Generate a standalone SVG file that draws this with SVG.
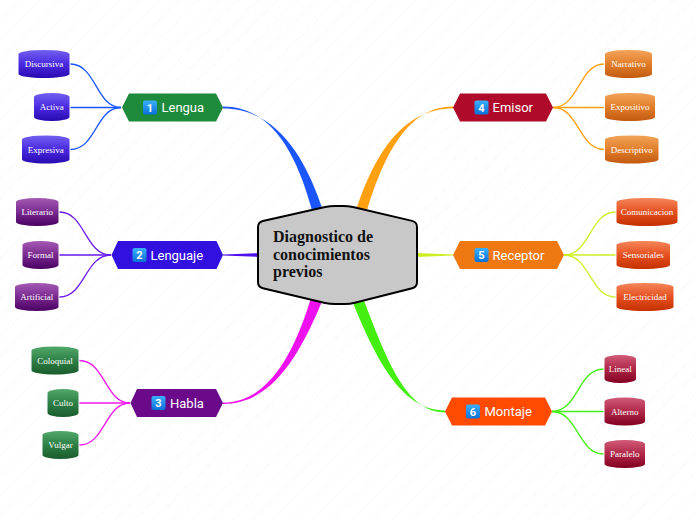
<svg xmlns="http://www.w3.org/2000/svg" width="696" height="520" viewBox="0 0 696 520">
<defs>
<pattern id="bg" width="14" height="14" patternUnits="userSpaceOnUse" patternTransform="rotate(45)">
<line x1="0" y1="0" x2="0" y2="14" stroke="#e6e6e6" stroke-width="0.8" stroke-dasharray="1.5 1.5"/>
</pattern>
<linearGradient id="gBlue" x1="0" y1="0" x2="0" y2="1"><stop offset="0" stop-color="#7260f0"/><stop offset="0.5" stop-color="#4a2ae0"/><stop offset="1" stop-color="#2a0ab0"/></linearGradient>
<linearGradient id="gPurple" x1="0" y1="0" x2="0" y2="1"><stop offset="0" stop-color="#a45ab4"/><stop offset="0.5" stop-color="#7a2a90"/><stop offset="1" stop-color="#4a0062"/></linearGradient>
<linearGradient id="gGreen" x1="0" y1="0" x2="0" y2="1"><stop offset="0" stop-color="#52a86a"/><stop offset="0.5" stop-color="#2e8046"/><stop offset="1" stop-color="#1a5c2c"/></linearGradient>
<linearGradient id="gOrange" x1="0" y1="0" x2="0" y2="1"><stop offset="0" stop-color="#f2a45a"/><stop offset="0.5" stop-color="#e27e2a"/><stop offset="1" stop-color="#c25a10"/></linearGradient>
<linearGradient id="gRed" x1="0" y1="0" x2="0" y2="1"><stop offset="0" stop-color="#f4865a"/><stop offset="0.5" stop-color="#e65020"/><stop offset="1" stop-color="#c43000"/></linearGradient>
<linearGradient id="gCrimson" x1="0" y1="0" x2="0" y2="1"><stop offset="0" stop-color="#d05a78"/><stop offset="0.5" stop-color="#b02848"/><stop offset="1" stop-color="#820020"/></linearGradient>
<linearGradient id="gBadge" x1="0" y1="0" x2="0" y2="1"><stop offset="0" stop-color="#3ab0ff"/><stop offset="1" stop-color="#0a70d8"/></linearGradient>
</defs>
<style>
.leaf text{font-family:"Liberation Serif",serif;font-size:9px;fill:#fff;text-anchor:middle}
.br text{font-family:Roboto,"Liberation Sans",sans-serif;font-size:13px;fill:#fff}
.br text.num{font-size:11px;font-weight:bold;text-anchor:middle}
.badge{fill:url(#gBadge)}
.lc{fill:none;stroke-width:1.3}
</style>
<rect width="696" height="520" fill="#fff"/>
<rect width="696" height="520" fill="url(#bg)"/>

<g id="connectors">
<path d="M223,106.5 C270,106.5 296,150 313,214 L324,214 C304,150 272,108.5 223,108.5 Z" fill="#1a55ff"/>
<path d="M453,106.5 C410,106.5 385,150 366,214 L355,214 C375,150 405,108.5 453,108.5 Z" fill="#ffa010"/>
<path d="M223,254.5 L262,253 L262,257 L223,255.5 Z" fill="#5010ee"/>
<path d="M416,253 L453,254.5 L453,255.5 L416,257 Z" fill="#ccee22"/>
<path d="M223,402.5 C270,402.5 295,350 311,298 L323,299 C300,355 272,404 223,404 Z" fill="#ee10ee"/>
<path d="M445,410.5 C400,410.5 374,355 351,298 L363,298 C385,355 405,412.5 445,412.5 Z" fill="#44ee10"/>

<g class="lc" stroke="#1a55ff">
<path d="M70.5,64 C96,64 96,107.5 121,107.5"/>
<path d="M70.5,107.5 L121,107.5"/>
<path d="M70.5,149.5 C96,149.5 96,107.5 121,107.5"/>
</g>
<g class="lc" stroke="#6a18ee">
<path d="M59.5,212 C85,212 85,255 111,255"/>
<path d="M59.5,255 L111,255"/>
<path d="M59.5,297 C85,297 85,255 111,255"/>
</g>
<g class="lc" stroke="#ee18ee">
<path d="M79.5,360.5 C105,360.5 105,403 130,403"/>
<path d="M79.5,403 L130,403"/>
<path d="M79.5,445 C105,445 105,403 130,403"/>
</g>
<g class="lc" stroke="#ffa010">
<path d="M553,107.5 C579,107.5 579,64 604,64"/>
<path d="M553,107.5 L604,107.5"/>
<path d="M553,107.5 C579,107.5 579,149.5 604,149.5"/>
</g>
<g class="lc" stroke="#ccee22">
<path d="M564,255 C590,255 590,212 615.5,212"/>
<path d="M564,255 L615.5,255"/>
<path d="M564,255 C590,255 590,297 615.5,297"/>
</g>
<g class="lc" stroke="#44ee10">
<path d="M552,411.5 C578,411.5 578,369 603.5,369"/>
<path d="M552,411.5 L603.5,411.5"/>
<path d="M552,411.5 C578,411.5 578,454 603.5,454"/>
</g>
</g>

<g id="center">
<path d="M262.9,220.9 L325.1,207.1 Q330,206 335,206 L343,206 Q348,206 352.9,207.1 L412.1,220.9 Q417,222 417,227 L417,282 Q417,287 412.2,288.2 L354.8,302.8 Q350,304 345,304 L335,304 Q330,304 325.1,302.9 L262.9,288.2 Q258,287 258,282 L258,227 Q258,222 262.9,220.9 Z" fill="#c8c8c8" stroke="#000" stroke-width="2" stroke-linejoin="round"/>
<text font-family="'Liberation Serif',serif" font-size="16" font-weight="bold" fill="#111"><tspan x="273" y="242">Diagnostico de</tspan><tspan x="273" y="260">conocimientos</tspan><tspan x="273" y="277">previos</tspan></text>
</g>

<g id="b1" class="br">
<polygon points="122,107.5 129,93.5 216,93.5 223,107.5 216,121.5 129,121.5" fill="#1e8a3c"/>
<rect class="badge" x="143" y="100.5" width="14" height="14" rx="2"/>
<text class="num" x="150" y="111.8">1</text>
<text x="161.5" y="112">Lengua</text>
</g>
<g id="b2" class="br">
<polygon points="111.5,255 118,241 216.5,241 223,255 216.5,269 118,269" fill="#3210e0"/>
<rect class="badge" x="132.5" y="248" width="14" height="14" rx="2"/>
<text class="num" x="139.5" y="259.3">2</text>
<text x="150.5" y="259.5">Lenguaje</text>
</g>
<g id="b3" class="br">
<polygon points="130.5,403 137,389 216,389 223,403 216,417 137,417" fill="#6a0a8a"/>
<rect class="badge" x="151.5" y="396" width="14" height="14" rx="2"/>
<text class="num" x="158.5" y="407.3">3</text>
<text x="170" y="407.5">Habla</text>
</g>
<g id="b4" class="br">
<polygon points="453,107.5 460,93.5 546,93.5 553,107.5 546,121.5 460,121.5" fill="#b00a2a"/>
<rect class="badge" x="474.5" y="100.5" width="14" height="14" rx="2"/>
<text class="num" x="481.5" y="111.8">4</text>
<text x="492.5" y="112">Emisor</text>
</g>
<g id="b5" class="br">
<polygon points="453,255 460,241 557,241 564,255 557,269 460,269" fill="#f07810"/>
<rect class="badge" x="474.5" y="248" width="14" height="14" rx="2"/>
<text class="num" x="481.5" y="259.3">5</text>
<text x="492.5" y="259.5">Receptor</text>
</g>
<g id="b6" class="br">
<polygon points="445,411.5 452,397.5 545,397.5 552,411.5 545,425.5 452,425.5" fill="#ff4a00"/>
<rect class="badge" x="466" y="404.5" width="14" height="14" rx="2"/>
<text class="num" x="473" y="415.8">6</text>
<text x="484.5" y="416">Montaje</text>
</g>

<g id="l1a" class="leaf"><path d="M18.5,54 A25.5,4 0 0 1 69.5,54 L69.5,74 A25.5,4 0 0 1 18.5,74 Z" fill="url(#gBlue)"/><text x="44" y="67">Discursiva</text></g>
<g id="l1b" class="leaf"><path d="M34,97 A17.75,4 0 0 1 69.5,97 L69.5,117 A17.75,4 0 0 1 34,117 Z" fill="url(#gBlue)"/><text x="51.75" y="110">Activa</text></g>
<g id="l1c" class="leaf"><path d="M22,139.5 A23.75,4 0 0 1 69.5,139.5 L69.5,159.5 A23.75,4 0 0 1 22,159.5 Z" fill="url(#gBlue)"/><text x="45.75" y="152.5">Expresiva</text></g>

<g id="l2a" class="leaf"><path d="M16,202 A21.25,4 0 0 1 58.5,202 L58.5,222 A21.25,4 0 0 1 16,222 Z" fill="url(#gPurple)"/><text x="37.25" y="215">Literario</text></g>
<g id="l2b" class="leaf"><path d="M22.5,245 A18,4 0 0 1 58.5,245 L58.5,265 A18,4 0 0 1 22.5,265 Z" fill="url(#gPurple)"/><text x="40.5" y="258">Formal</text></g>
<g id="l2c" class="leaf"><path d="M15,287 A21.75,4 0 0 1 58.5,287 L58.5,307 A21.75,4 0 0 1 15,307 Z" fill="url(#gPurple)"/><text x="36.75" y="300">Artificial</text></g>

<g id="l3a" class="leaf"><path d="M31.5,350.5 A23.5,4 0 0 1 78.5,350.5 L78.5,370.5 A23.5,4 0 0 1 31.5,370.5 Z" fill="url(#gGreen)"/><text x="55" y="363.5">Coloquial</text></g>
<g id="l3b" class="leaf"><path d="M47.5,393 A15.5,4 0 0 1 78.5,393 L78.5,413 A15.5,4 0 0 1 47.5,413 Z" fill="url(#gGreen)"/><text x="63" y="406">Culto</text></g>
<g id="l3c" class="leaf"><path d="M42.5,435 A18,4 0 0 1 78.5,435 L78.5,455 A18,4 0 0 1 42.5,455 Z" fill="url(#gGreen)"/><text x="60.5" y="448">Vulgar</text></g>

<g id="l4a" class="leaf"><path d="M605,54 A23.5,4 0 0 1 652,54 L652,74 A23.5,4 0 0 1 605,74 Z" fill="url(#gOrange)"/><text x="628.5" y="67">Narrativo</text></g>
<g id="l4b" class="leaf"><path d="M605,97 A25,4 0 0 1 655,97 L655,117 A25,4 0 0 1 605,117 Z" fill="url(#gOrange)"/><text x="630" y="110">Expositivo</text></g>
<g id="l4c" class="leaf"><path d="M605,139.5 A26.75,4 0 0 1 658.5,139.5 L658.5,159.5 A26.75,4 0 0 1 605,159.5 Z" fill="url(#gOrange)"/><text x="631.75" y="152.5">Descriptivo</text></g>

<g id="l5a" class="leaf"><path d="M616.5,202 A30.5,4 0 0 1 677.5,202 L677.5,222 A30.5,4 0 0 1 616.5,222 Z" fill="url(#gRed)"/><text x="647" y="215">Comunicacion</text></g>
<g id="l5b" class="leaf"><path d="M616.5,245 A26.75,4 0 0 1 670,245 L670,265 A26.75,4 0 0 1 616.5,265 Z" fill="url(#gRed)"/><text x="643.25" y="258">Sensoriales</text></g>
<g id="l5c" class="leaf"><path d="M616.5,287 A28.5,4 0 0 1 673.5,287 L673.5,307 A28.5,4 0 0 1 616.5,307 Z" fill="url(#gRed)"/><text x="645" y="300">Electricidad</text></g>

<g id="l6a" class="leaf"><path d="M604.5,359 A15.75,4 0 0 1 636,359 L636,379 A15.75,4 0 0 1 604.5,379 Z" fill="url(#gCrimson)"/><text x="620.25" y="372">Lineal</text></g>
<g id="l6b" class="leaf"><path d="M604.5,401.5 A20.25,4 0 0 1 645,401.5 L645,421.5 A20.25,4 0 0 1 604.5,421.5 Z" fill="url(#gCrimson)"/><text x="624.75" y="414.5">Alterno</text></g>
<g id="l6c" class="leaf"><path d="M604.5,444 A20.25,4 0 0 1 645,444 L645,464 A20.25,4 0 0 1 604.5,464 Z" fill="url(#gCrimson)"/><text x="624.75" y="457">Paralelo</text></g>
</svg>
